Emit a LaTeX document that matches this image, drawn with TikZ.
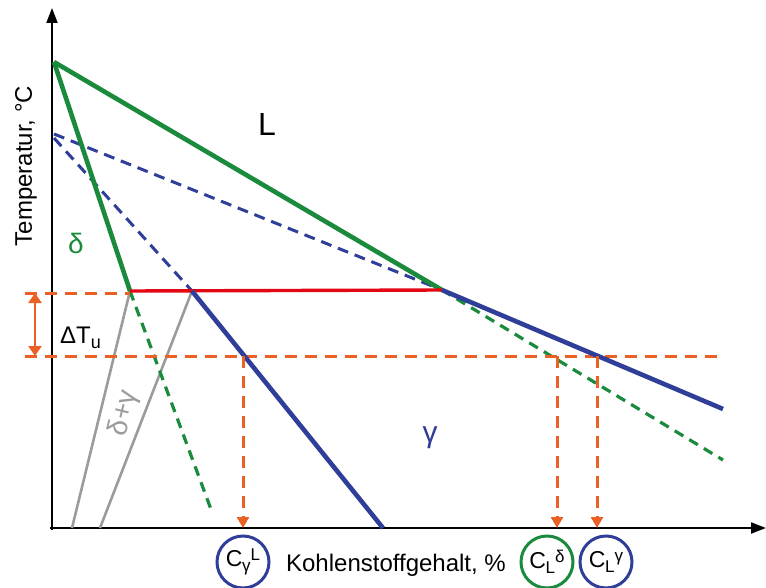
\documentclass[tikz,border=0pt]{standalone}
\usepackage{fontspec}
\setmainfont{Liberation Sans}
\usepackage{xcolor}
\definecolor{fegreen}{HTML}{1A8A3C}
\definecolor{feblue}{HTML}{2F3E98}
\definecolor{fered}{HTML}{E30613}
\definecolor{feorange}{HTML}{EB6025}
\definecolor{fegray}{HTML}{9B9B9B}
\usetikzlibrary{positioning,arrows.meta}
\tikzset{
  axis/.style  ={line width=2pt, -{Triangle[length=15pt,width=11pt]}},
  gline/.style ={draw=fegreen, line width=4.6pt},
  bline/.style ={draw=feblue, line width=4.6pt},
  gdash/.style ={draw=fegreen, line width=3.2pt, dash pattern=on 10pt off 7pt},
  bdash/.style ={draw=feblue, line width=3pt, dash pattern=on 11pt off 7pt},
  odash/.style ={draw=feorange, line width=3pt, dash pattern=on 12pt off 8pt},
  oarr/.style  ={odash, -{Triangle[length=11pt,width=12pt]}},
  dgline/.style={draw=fegray, line width=2.6pt},
  conc/.style  ={circle, line width=3pt, minimum size=52pt, inner sep=0pt,
                 font=\fontsize{23}{26}\selectfont},
  lbl/.style   ={font=\fontsize{24}{28}\selectfont, inner sep=0pt},
}
\newcommand{\cconc}[2]{C\kern-0.5pt\raisebox{-5pt}{\fontsize{17}{19}\selectfont #1}\raisebox{6pt}{\fontsize{17}{19}\selectfont #2}}

\begin{document}
\begin{tikzpicture}[x=1pt, y=-1pt]
  \useasboundingbox (0,0) rectangle (766,588);
  % points of the diagram
  \coordinate (O) at (52,528);
  \coordinate (ytop) at (52,8);
  \coordinate (xend) at (766,528);
  \coordinate (Tm) at (54,62);
  \coordinate (gm) at (54,134);
  \coordinate (P) at (442,290);
  \coordinate (dP) at (130,291);
  \coordinate (gP) at (192,291);
  \coordinate (dEnd) at (212,512);
  \coordinate (gEnd) at (383,528);
  \coordinate (LdEnd) at (723,460);
  \coordinate (LgEnd) at (723,409);
  \coordinate (dgA) at (72,528);
  \coordinate (dgB) at (100,528);
  \coordinate (p0) at (25,293);
  \coordinate (p1) at (130,293);
  \coordinate (u0) at (25,356);
  \coordinate (u1) at (722,356);
  \coordinate (ugL) at (243,356);
  \coordinate (uLd) at (557,356);
  \coordinate (uLg) at (597,356);

  % axes
  \draw[axis] (52,530) -- (ytop);
  \draw[axis] (50,528) -- (xend);

  % delta + gamma field
  \draw[dgline] (dP) -- (dgA);
  \draw[dgline] (gP) -- (dgB);
  \node[lbl, text=fegray, rotate=76, font=\fontsize{28}{32}\selectfont] (dg) at (124,413) {δ+γ};

  % metastable lines
  \draw[bdash] (gm) -- (P);
  \draw[bdash] (54,138) -- (gP);
  \draw[gdash] (dP) -- (dEnd);
  \draw[gdash] (P) -- (LdEnd);

  % undercooling
  \draw[odash] (p0) -- (p1);
  \draw[odash] (u0) -- (u1);
  \draw[draw=feorange, line width=2.4pt, {Triangle[length=10pt,width=13pt]}-{Triangle[length=10pt,width=13pt]}] (35,293) -- (35,356);
  \node[lbl, anchor=base west] (dT) at (60,343) {ΔT\raisebox{-5pt}{\fontsize{18}{20}\selectfont u}};

  % stable lines
  \draw[gline] (Tm) -- (P);
  \draw[gline] (Tm) -- (dP);
  \draw[draw=fered, line width=3.4pt] (dP) -- (P);
  \draw[bline] (gP) -- (gEnd);
  \draw[bline] (P) -- (LgEnd);

  % field labels
  \node[font=\fontsize{32}{36}\selectfont, inner sep=0pt] (L) at (267,124) {L};
  \node[lbl, text=fegreen, font=\fontsize{28}{32}\selectfont] (delta) at (76,243) {δ};
  \node[lbl, text=feblue, font=\fontsize{30}{34}\selectfont] (gamma) at (430,438) {γ};
  \node[lbl, rotate=90] (ylab) at (26,166) {Temperatur, °C};

  % concentrations
  \node[conc, draw=feblue] (cgL) at (243,562) {\cconc{γ}{L}};
  \node[conc, draw=fegreen] (cLd) at (547,562) {\cconc{L}{δ}};
  \node[conc, draw=feblue] (cLg) at (606,562) {\cconc{L}{γ}};
  \node[lbl] (xlab) at (396,565) {Kohlenstoffgehalt, \%};

  \draw[oarr] (ugL) -- (ugL |- O);
  \draw[oarr] (uLd) -- (uLd |- O);
  \draw[oarr] (uLg) -- (uLg |- O);
\end{tikzpicture}
\end{document}
